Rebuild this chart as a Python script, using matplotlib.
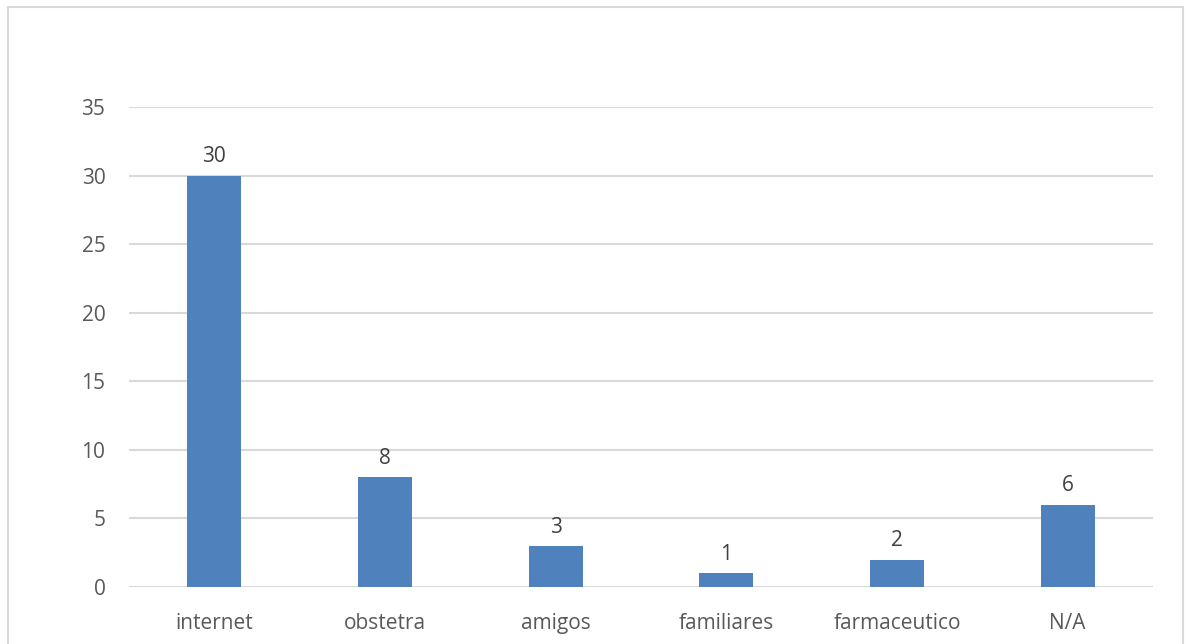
import matplotlib
matplotlib.use("Agg")
import matplotlib.pyplot as plt
from matplotlib.patches import Rectangle

categories = ["internet", "obstetra", "amigos", "familiares", "farmaceutico", "N/A"]
values = [30, 8, 3, 1, 2, 6]
yticks = [0, 5, 10, 15, 20, 25, 30, 35]

plt.rcParams['font.family'] = ['Open Sans', 'DejaVu Sans']
text_color = "#595959"
grid_color = "#d9d9d9"

fig = plt.figure(figsize=(11.89, 6.44), dpi=100)
fig.patch.set_facecolor("white")

# chart border (runs off the bottom edge like the reference)
fig.patches.append(Rectangle((8 / 1189, -0.05), 1175 / 1189, 1.05 - 7 / 644,
                             transform=fig.transFigure, fill=False,
                             edgecolor=grid_color, linewidth=1.5))

ax = fig.add_axes([129 / 1189, 57 / 644, 1024 / 1189, 480 / 644])
x = range(len(categories))
bars = ax.bar(x, values, width=0.316, color="#4f81bd", zorder=3)

for b, v in zip(bars, values):
    ax.text(b.get_x() + b.get_width() / 2, v + 0.6, str(v), ha="center", va="bottom",
            fontsize=15, color="#404040")

ax.set_xlim(-0.5, len(categories) - 0.5)
ax.set_ylim(0, 35)
ax.set_yticks(yticks)
ax.set_xticks(list(x))
ax.set_xticklabels(categories)
ax.yaxis.grid(True, color=grid_color, linewidth=1.5, zorder=0)
ax.tick_params(axis="both", length=0, labelsize=15, colors=text_color)
ax.tick_params(axis="y", pad=17)
ax.tick_params(axis="x", pad=19)
for s in ax.spines.values():
    s.set_visible(False)

fig.savefig("out.png", dpi=100)
